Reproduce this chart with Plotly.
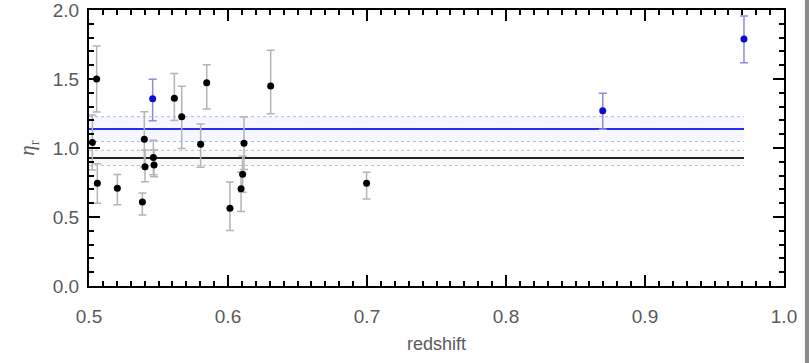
import plotly.graph_objects as go

# --- data ---
black_z = [0.5024, 0.5055, 0.5060, 0.5204, 0.5384, 0.5398, 0.5403, 0.5463, 0.5468,
           0.5614, 0.5667, 0.5803, 0.5847, 0.6014, 0.6094, 0.6105, 0.6115, 0.6307, 0.6997]
black_eta = [1.04, 1.50, 0.745, 0.708, 0.609, 1.063, 0.865, 0.932, 0.877,
             1.36, 1.227, 1.027, 1.473, 0.563, 0.705, 0.81, 1.034, 1.449, 0.744]
black_err_hi = [0.20, 0.24, 0.14, 0.10, 0.065, 0.20, 0.12, 0.125, 0.11,
                0.18, 0.22, 0.147, 0.13, 0.19, 0.12, 0.13, 0.19, 0.26, 0.08]
black_err_lo = [0.20, 0.24, 0.145, 0.12, 0.095, 0.20, 0.11, 0.125, 0.085,
                0.16, 0.23, 0.167, 0.19, 0.16, 0.166, 0.13, 0.19, 0.20, 0.114]

blue_z = [0.5458, 0.8696, 0.9712]
blue_eta = [1.357, 1.270, 1.790]
blue_err_hi = [0.141, 0.126, 0.167]
blue_err_lo = [0.159, 0.135, 0.172]

fit_z = [0.5, 0.9712]
black_fit = 0.928
black_fit_err = 0.055
blue_fit = 1.137
blue_fit_err = 0.09

x_ticks = [0.5, 0.6, 0.7, 0.8, 0.9, 1.0]
y_ticks = [0.0, 0.5, 1.0, 1.5, 2.0]

fig = go.Figure()

# bands (hatched look -> light fill + dotted edges)
def band(center, err, color, fill):
    lo = [center - err] * len(fit_z)
    hi = [center + err] * len(fit_z)
    fig.add_trace(go.Scatter(x=fit_z, y=lo, mode="lines",
                             line=dict(color=color, width=1, dash="dot"),
                             hoverinfo="skip", showlegend=False))
    fig.add_trace(go.Scatter(x=fit_z, y=hi, mode="lines", fill="tonexty",
                             fillcolor=fill,
                             line=dict(color=color, width=1, dash="dot"),
                             hoverinfo="skip", showlegend=False))

band(black_fit, black_fit_err, "rgba(150,150,150,0.6)", "rgba(200,200,200,0.10)")
band(blue_fit, blue_fit_err, "rgba(120,120,255,0.55)", "rgba(120,120,255,0.06)")

fig.add_trace(go.Scatter(x=fit_z, y=[black_fit] * len(fit_z), mode="lines",
                         line=dict(color="#222222", width=2), showlegend=False))
fig.add_trace(go.Scatter(x=fit_z, y=[blue_fit] * len(fit_z), mode="lines",
                         line=dict(color="#2a2af0", width=2), showlegend=False))

fig.add_trace(go.Scatter(
    x=black_z, y=black_eta, mode="markers",
    marker=dict(color="black", size=7),
    error_y=dict(type="data", symmetric=False, array=black_err_hi,
                 arrayminus=black_err_lo, color="#b4b4b4", thickness=1.5, width=4),
    showlegend=False))

fig.add_trace(go.Scatter(
    x=blue_z, y=blue_eta, mode="markers",
    marker=dict(color="#0a0ad0", size=7),
    error_y=dict(type="data", symmetric=False, array=blue_err_hi,
                 arrayminus=blue_err_lo, color="#8c8cd8", thickness=1.5, width=4),
    showlegend=False))

axis_common = dict(
    showline=True, linecolor="black", linewidth=2, mirror="allticks",
    ticks="inside", ticklen=11, tickwidth=2, tickcolor="black",
    showgrid=False, zeroline=False, automargin=False, ticklabeloverflow="allow",
    tickfont=dict(family="Liberation Sans, Arial, sans-serif", size=19, color="#5a5a5a"),
)

fig.update_xaxes(
    range=[0.5, 1.0], tickvals=x_ticks, ticktext=[f"{v:.1f}" for v in x_ticks],
    minor=dict(ticks="inside", ticklen=5, tickwidth=1.5, tickcolor="black", dtick=0.01),
    ticklabelstandoff=12,
    title=dict(text="redshift", standoff=12,
               font=dict(family="Liberation Sans, Arial, sans-serif", size=18, color="#5a5a5a")),
    **axis_common)

fig.update_yaxes(
    range=[0.0, 2.0], tickvals=y_ticks, ticktext=[f"{v:.1f}" for v in y_ticks],
    minor=dict(ticks="inside", ticklen=5, tickwidth=1.5, tickcolor="black", dtick=0.1),
    ticklabelstandoff=4,
    title=dict(text="<i>η</i><sub>r</sub>", standoff=12,
               font=dict(family="Liberation Serif, serif", size=21, color="#5a5a5a")),
    **axis_common)

# grey strip at the right edge of the reference image
fig.add_shape(type="rect", xref="paper", yref="paper", x0=1.0301, x1=1.05, y0=-0.3,
              y1=1.1, fillcolor="#8a8a8a", line=dict(width=0), layer="above")

fig.update_layout(
    width=809, height=363,
    margin=dict(l=89, r=25, t=10, b=77),
    paper_bgcolor="white", plot_bgcolor="white",
)

fig.write_html("out.html")
